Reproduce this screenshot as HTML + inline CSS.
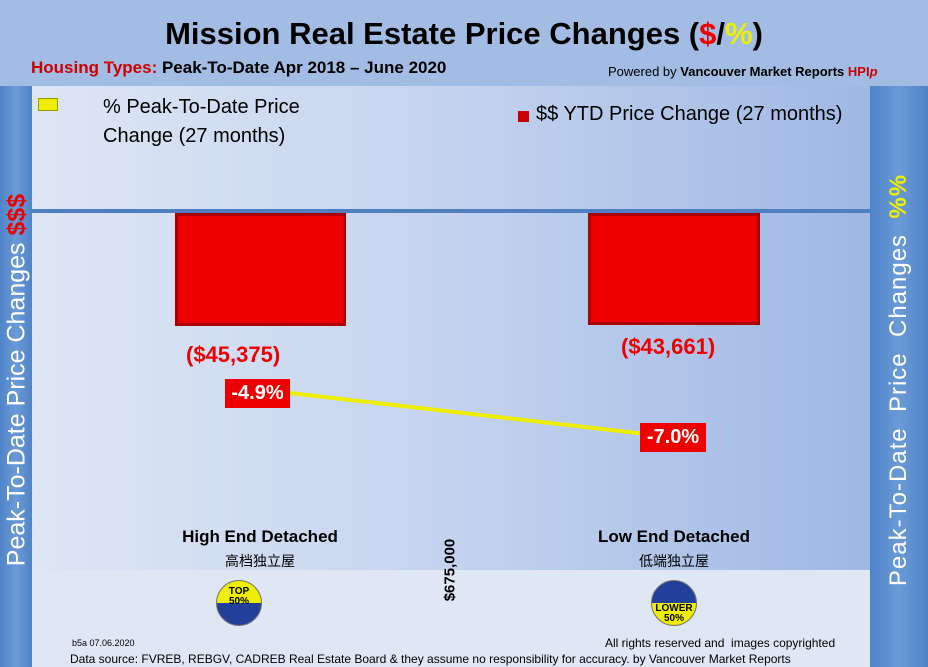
<!DOCTYPE html>
<html><head><meta charset="utf-8"><style>
body{margin:0;width:928px;height:667px;overflow:hidden;background:#9fb8e2;font-family:"Liberation Sans","Noto Sans CJK SC",sans-serif;position:relative}
.a{position:absolute;white-space:nowrap}
</style></head><body>
<div class="a" style="left:0;top:0;width:928px;height:86px;background:#a3bce4"></div>
<div class="a" style="left:32px;top:86px;width:838px;height:484px;background:linear-gradient(90deg,#dde6f5 0%,#c4d3ee 50%,#9fb8e4 100%)"></div>
<div class="a" style="left:32px;top:570px;width:838px;height:62px;background:#dfe6f4"></div>
<div class="a" style="left:0;top:632px;width:928px;height:35px;background:#dfe6f4"></div>
<div class="a" style="left:0;top:86px;width:32px;height:581px;background:linear-gradient(90deg,#4f84c8,#6a9ad6,#4f84c8)"></div>
<div class="a" style="left:870px;top:86px;width:58px;height:581px;background:linear-gradient(90deg,#4f84c8,#6a9ad6,#4f84c8)"></div>
<div class="a" style="left:0;top:0;width:928px;text-align:center;top:16px;font-size:31px;font-weight:bold;color:#000">Mission Real Estate Price Changes (<span style="color:#e00">$</span>/<span style="color:#ee0">%</span>)</div>
<div class="a" style="left:31px;top:58px;font-size:17px;font-weight:bold"><span style="color:#c00">Housing Types:</span> Peak-To-Date Apr 2018 – June 2020</div>
<div class="a" style="left:608px;top:64px;font-size:13px">Powered by <b>Vancouver Market Reports <span style="color:#c00">HPI<i>p</i></span></b></div>
<div class="a" style="left:38px;top:98px;width:18px;height:11px;background:#ee0;border:1px solid #990"></div>
<div class="a" style="left:103px;top:93px;font-size:20px;line-height:29px;white-space:normal;width:230px">% Peak-To-Date Price Change (27 months)</div>
<div class="a" style="left:518px;top:111px;width:11px;height:11px;background:#c00"></div>
<div class="a" style="left:536px;top:103px;font-size:20px">$$ YTD Price Change (27 months)</div>
<div class="a" style="left:32px;top:209px;width:838px;height:4px;background:#4f7fc0"></div>
<div class="a" style="left:175px;top:213px;width:171px;height:113px;background:#e00;box-shadow:inset 0 0 0 3px #a00"></div>
<div class="a" style="left:588px;top:213px;width:172px;height:112px;background:#e00;box-shadow:inset 0 0 0 3px #a00"></div>
<div class="a" style="left:186px;top:342px;font-size:22px;font-weight:bold;color:#e00">($45,375)</div>
<div class="a" style="left:621px;top:334px;font-size:22px;font-weight:bold;color:#e00">($43,661)</div>
<svg class="a" style="left:0;top:0" width="928" height="667"><line x1="290" y1="393" x2="672" y2="437" stroke="#ee0" stroke-width="4"/></svg>
<div class="a" style="left:225px;top:379px;width:65px;height:29px;background:#e00;color:#fff;font-weight:bold;font-size:20px;text-align:center;line-height:29px">-4.9%</div>
<div class="a" style="left:640px;top:423px;width:66px;height:29px;background:#e00;color:#fff;font-weight:bold;font-size:20px;text-align:center;line-height:29px">-7.0%</div>
<div class="a" style="left:160px;top:527px;width:200px;text-align:center;font-size:17px;font-weight:bold">High End Detached</div>
<div class="a" style="left:160px;top:551px;width:200px;text-align:center;font-size:14px">高档独立屋</div>
<div class="a" style="left:574px;top:527px;width:200px;text-align:center;font-size:17px;font-weight:bold">Low End Detached</div>
<div class="a" style="left:574px;top:551px;width:200px;text-align:center;font-size:14px">低端独立屋</div>
<div class="a" style="left:450px;top:570px;font-size:15px;font-weight:bold;transform:translate(-50%,-50%) rotate(-90deg)">$675,000</div>
<div class="a" style="left:216px;top:580px;width:46px;height:46px;border-radius:50%;border:1px solid #777;background:linear-gradient(#ee0 50%,#22409a 50%);font-size:10px;font-weight:bold;text-align:center;line-height:10px;box-sizing:border-box;padding-top:6px">TOP<br>50%</div>
<div class="a" style="left:651px;top:580px;width:46px;height:46px;border-radius:50%;border:1px solid #777;background:linear-gradient(#22409a 50%,#ee0 50%);font-size:10px;font-weight:bold;text-align:center;line-height:10px;box-sizing:border-box;padding-top:23px">LOWER<br>50%</div>
<div class="a" style="left:72px;top:638px;font-size:9px">b5a 07.06.2020</div>
<div class="a" style="left:605px;top:636px;font-size:12px">All rights reserved and &nbsp;images copyrighted</div>
<div class="a" style="left:70px;top:652px;font-size:12px">Data source: FVREB, REBGV, CADREB Real Estate Board &amp; they assume no responsibility for accuracy. by Vancouver Market Reports</div>
<div class="a" style="left:17px;top:380px;transform:translate(-50%,-50%) rotate(-90deg);font-size:25px;color:#fff">Peak-To-Date Price Changes <span style="color:#e00;font-weight:bold">$$$</span></div>
<div class="a" style="left:899px;top:380px;transform:translate(-50%,-50%) rotate(-90deg);font-size:24px;color:#fff;letter-spacing:1px">Peak-To-Date &nbsp;Price &nbsp;Changes &nbsp;<span style="color:#ee0;font-weight:bold">%%</span></div>
</body></html>
